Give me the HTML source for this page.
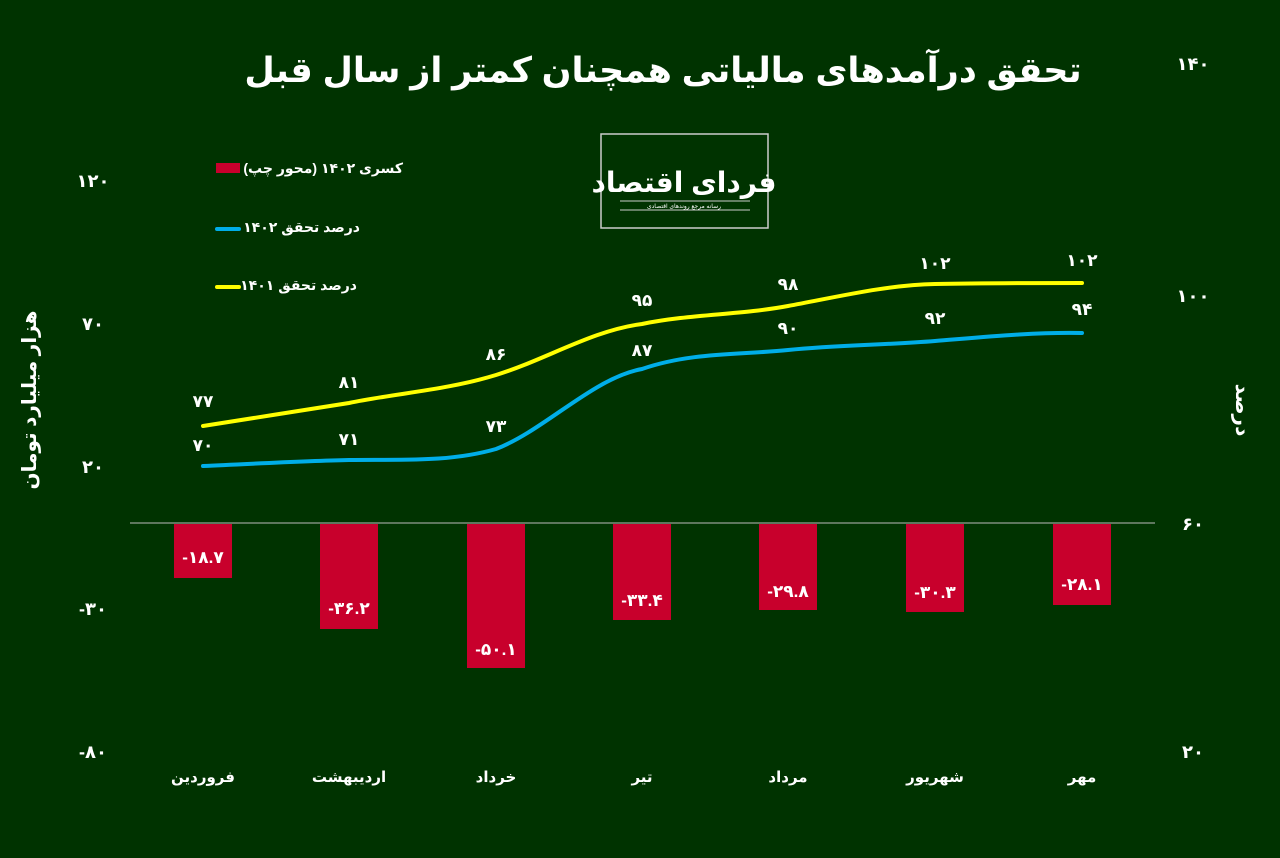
<!DOCTYPE html>
<html><head><meta charset="utf-8"><style>
html,body{margin:0;padding:0;background:#003300;}
svg{display:block;font-family:"Liberation Sans","DejaVu Sans",sans-serif;}
</style></head><body>
<svg width="1280" height="858" viewBox="0 0 1280 858" xmlns="http://www.w3.org/2000/svg">
<rect width="1280" height="858" fill="#003300"/>
<text x="663" y="82" text-anchor="middle" fill="#fff" font-size="35" font-weight="bold" direction="rtl">تحقق درآمدهای مالیاتی همچنان کمتر از سال قبل</text>
<!-- logo -->
<rect x="601" y="134" width="167" height="94" fill="#003300" stroke="#ccc" stroke-width="1.5"/>
<text x="684" y="192" text-anchor="middle" fill="#fff" font-size="28" font-weight="bold" direction="rtl">فردای اقتصاد</text>
<line x1="620" y1="201" x2="750" y2="201" stroke="#ccc"/>
<line x1="620" y1="210" x2="750" y2="210" stroke="#ccc"/>
<text x="684" y="208" text-anchor="middle" fill="#fff" font-size="6" direction="rtl">رسانه مرجع روندهای اقتصادی</text>
<!-- legend -->
<rect x="216" y="163" width="24" height="10" fill="#c8002c"/>
<text x="403" y="173" text-anchor="start" fill="#fff" font-size="14" font-weight="bold" direction="rtl">کسری ۱۴۰۲ (محور چپ)</text>
<line x1="217" y1="229" x2="239" y2="229" stroke="#00aee8" stroke-width="4" stroke-linecap="round"/>
<text x="360" y="232" text-anchor="start" fill="#fff" font-size="14" font-weight="bold" direction="rtl">درصد تحقق ۱۴۰۲</text>
<line x1="217" y1="287" x2="239" y2="287" stroke="#ffff00" stroke-width="4" stroke-linecap="round"/>
<text x="357" y="290" text-anchor="start" fill="#fff" font-size="14" font-weight="bold" direction="rtl">درصد تحقق ۱۴۰۱</text>
<!-- axes labels -->
<g fill="#fff" font-size="18" font-weight="bold" text-anchor="middle">
<text x="93" y="187">۱۲۰</text><text x="93" y="330">۷۰</text><text x="93" y="473">۲۰</text>
<text x="93" y="615">-۳۰</text><text x="93" y="758">-۸۰</text>
<text x="1193" y="70">۱۴۰</text><text x="1193" y="302">۱۰۰</text><text x="1193" y="530">۶۰</text><text x="1193" y="758">۲۰</text>
</g>
<text transform="translate(36,400) rotate(-90)" text-anchor="middle" fill="#fff" font-size="20" font-weight="bold" direction="rtl">هزار میلیارد تومان</text>
<text transform="translate(1236,410) rotate(90)" text-anchor="middle" fill="#fff" font-size="20" font-weight="bold" direction="rtl">درصد</text>
<line x1="130" y1="523" x2="1155" y2="523" stroke="#bbb" stroke-width="1"/>
<!-- bars -->
<g fill="#c8002c">
<rect x="174" y="524" width="58" height="54"/>
<rect x="320" y="524" width="58" height="105"/>
<rect x="467" y="524" width="58" height="144"/>
<rect x="613" y="524" width="58" height="96"/>
<rect x="759" y="524" width="58" height="86"/>
<rect x="906" y="524" width="58" height="88"/>
<rect x="1053" y="524" width="58" height="81"/>
</g>
<g fill="#fff" font-size="17" font-weight="bold" text-anchor="middle">
<text x="203" y="563">-۱۸.۷</text><text x="349" y="614">-۳۶.۲</text><text x="496" y="655">-۵۰.۱</text>
<text x="642" y="606">-۳۳.۴</text><text x="788" y="597">-۲۹.۸</text><text x="935" y="598">-۳۰.۳</text><text x="1082" y="590">-۲۸.۱</text>
</g>
<!-- lines -->
<path d="M203,426 C252,418 300,411 349,403 C398,393 447,390 496,375 C545,360 593,330 642,324 C691,314 740,315 788,306 C837,297 886,285 935,284 C984,283 1033,283 1082,283" fill="none" stroke="#ffff00" stroke-width="4" stroke-linecap="round"/>
<path d="M203,466 C252,464 300,461 349,460 C398,459 447,463 496,449 C545,430 593,378 642,369 C691,352 740,355 788,350 C837,345 886,345 935,341 C984,337 1033,332 1082,333" fill="none" stroke="#00aee8" stroke-width="4" stroke-linecap="round"/>
<g fill="#fff" font-size="17" font-weight="bold" text-anchor="middle">
<text x="203" y="407">۷۷</text><text x="349" y="388">۸۱</text><text x="496" y="360">۸۶</text><text x="642" y="306">۹۵</text>
<text x="788" y="290">۹۸</text><text x="935" y="269">۱۰۲</text><text x="1082" y="266">۱۰۲</text>
<text x="203" y="451">۷۰</text><text x="349" y="445">۷۱</text><text x="496" y="432">۷۳</text><text x="642" y="356">۸۷</text>
<text x="788" y="334">۹۰</text><text x="935" y="324">۹۲</text><text x="1082" y="315">۹۴</text>
</g>
<g fill="#fff" font-size="15" font-weight="bold" text-anchor="middle">
<text x="203" y="782">فروردین</text><text x="349" y="782">اردیبهشت</text><text x="496" y="782">خرداد</text>
<text x="642" y="782">تیر</text><text x="788" y="782">مرداد</text><text x="935" y="782">شهریور</text><text x="1082" y="782">مهر</text>
</g>
</svg>
</body></html>
